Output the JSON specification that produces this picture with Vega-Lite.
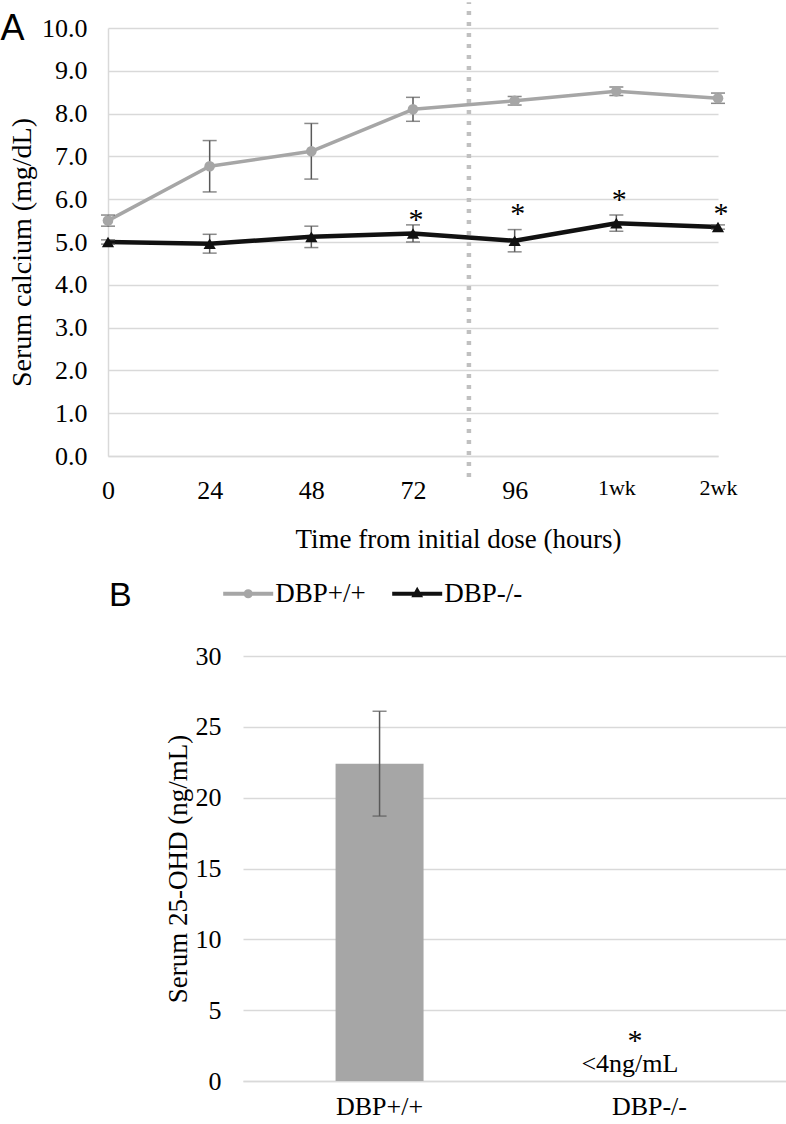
{
  "$schema": "https://vega.github.io/schema/vega-lite/v6.json",
  "background": "white",
  "padding": 0,
  "spacing": -28,
  "config": {
    "view": {"stroke": null},
    "font": "Liberation Serif",
    "axis": {
      "labelFont": "Liberation Serif",
      "titleFont": "Liberation Serif",
      "labelColor": "#000000",
      "titleColor": "#000000",
      "titleFontWeight": "normal",
      "labelFontSize": 26,
      "titleFontSize": 27,
      "ticks": false,
      "gridColor": "#d9d9d9",
      "gridWidth": 1.3,
      "domainColor": "#d9d9d9",
      "domainWidth": 1.5,
      "labelFlush": false,
      "labelOverlap": false,
      "labelBound": false
    }
  },
  "datasets": {
    "calcium": [
      {"group": "DBP+/+", "idx": 0, "ca": 5.5, "err": 0.13},
      {"group": "DBP+/+", "idx": 1, "ca": 6.77, "err": 0.6},
      {"group": "DBP+/+", "idx": 2, "ca": 7.12, "err": 0.65},
      {"group": "DBP+/+", "idx": 3, "ca": 8.1, "err": 0.28},
      {"group": "DBP+/+", "idx": 4, "ca": 8.3, "err": 0.1},
      {"group": "DBP+/+", "idx": 5, "ca": 8.52, "err": 0.1},
      {"group": "DBP+/+", "idx": 6, "ca": 8.36, "err": 0.12},
      {"group": "DBP-/-", "idx": 0, "ca": 5.0, "err": 0.05},
      {"group": "DBP-/-", "idx": 1, "ca": 4.96, "err": 0.22},
      {"group": "DBP-/-", "idx": 2, "ca": 5.12, "err": 0.25},
      {"group": "DBP-/-", "idx": 3, "ca": 5.2, "err": 0.2},
      {"group": "DBP-/-", "idx": 4, "ca": 5.03, "err": 0.26},
      {"group": "DBP-/-", "idx": 5, "ca": 5.44, "err": 0.19},
      {"group": "DBP-/-", "idx": 6, "ca": 5.35, "err": 0.05}
    ],
    "stars": [
      {"idx": 3, "ca": 5.31, "label": "*"},
      {"idx": 4, "ca": 5.44, "label": "*"},
      {"idx": 5, "ca": 5.76, "label": "*"},
      {"idx": 6, "ca": 5.44, "label": "*"}
    ],
    "divider": [{"idx": 3.55, "ca": -0.49, "ca2": 10.6}],
    "ohd": [{"genotype": "DBP+/+", "ohd": 22.4, "err": 3.7}],
    "ohdStar": [{"genotype": "DBP-/-", "ohd": 2.21, "label": "*"}],
    "ohdNote": [{"genotype": "DBP-/-", "ohd": 0.61, "label": "<4ng/mL"}]
  },
  "vconcat": [
    {
      "width": 610,
      "height": 428,
      "title": {
        "text": "A",
        "anchor": "start",
        "frame": "group",
        "orient": "top",
        "font": "Liberation Sans",
        "fontSize": 36,
        "fontWeight": "normal",
        "color": "#000000",
        "baseline": "alphabetic",
        "offset": -76,
        "dx": -107.5
      },
      "resolve": {"scale": {"shape": "independent", "stroke": "independent", "fill": "independent"}},
      "layer": [
        {
          "data": {"name": "calcium"},
          "mark": {"type": "line", "strokeJoin": "round"},
          "encoding": {
            "x": {
              "field": "idx",
              "type": "quantitative",
              "title": "Time from initial dose (hours)",
              "scale": {"domain": [0, 6], "nice": false, "zero": false},
              "axis": {
                "values": [0, 1, 2, 3, 4, 5, 6],
                "labelExpr": "['0','24','48','72','96','1wk','2wk'][datum.value]",
                "grid": false,
                "domain": true,
                "titleX": 350,
                "titleY": 91,
                "titleBaseline": "alphabetic",
                "labelPadding": 21.5,
                "labelFontSize": {"condition": {"test": "datum.value >= 5", "value": 22}, "value": 26}
              }
            },
            "y": {
              "field": "ca",
              "type": "quantitative",
              "title": "Serum calcium (mg/dL)",
              "scale": {"domain": [0, 10], "nice": false},
              "axis": {
                "values": [0, 1, 2, 3, 4, 5, 6, 7, 8, 9, 10],
                "format": ".1f",
                "grid": true,
                "domain": true,
                "titleFontSize": 28,
                "titleX": -78,
                "titleY": 224,
                "titleBaseline": "alphabetic",
                "labelPadding": 21
              }
            },
            "stroke": {
              "field": "group",
              "type": "nominal",
              "scale": {"range": ["#a6a6a6", "#111111"]},
              "legend": null
            },
            "strokeWidth": {
              "field": "group",
              "type": "nominal",
              "scale": {"range": [3.5, 4.5]},
              "legend": null
            }
          }
        },
        {
          "data": {"name": "calcium"},
          "mark": {"type": "errorbar", "color": "#595959", "ticks": true, "size": 14, "thickness": 1.5},
          "encoding": {
            "x": {"field": "idx", "type": "quantitative", "title": "Time from initial dose (hours)", "scale": {"domain": [0, 6], "nice": false, "zero": false}},
            "y": {"field": "ca", "type": "quantitative", "title": "Serum calcium (mg/dL)", "scale": {"domain": [0, 10], "nice": false}},
            "yError": {"field": "err"}
          }
        },
        {
          "data": {"name": "calcium"},
          "mark": {"type": "point", "filled": true, "opacity": 1},
          "encoding": {
            "x": {"field": "idx", "type": "quantitative", "title": "Time from initial dose (hours)", "scale": {"domain": [0, 6], "nice": false, "zero": false}},
            "y": {"field": "ca", "type": "quantitative", "title": "Serum calcium (mg/dL)", "scale": {"domain": [0, 10], "nice": false}},
            "color": {
              "field": "group",
              "type": "nominal",
              "scale": {"range": ["#a6a6a6", "#111111"]},
              "legend": null
            },
            "shape": {
              "field": "group",
              "type": "nominal",
              "scale": {"range": ["circle", "triangle-up"]},
              "legend": null
            },
            "size": {
              "field": "group",
              "type": "nominal",
              "scale": {"range": [113, 150]},
              "legend": null
            }
          }
        },
        {
          "data": {"name": "calcium"},
          "transform": [{"filter": "false"}],
          "mark": {"type": "point", "filled": true, "opacity": 1, "strokeWidth": 4},
          "encoding": {
            "x": {"field": "idx", "type": "quantitative", "title": "Time from initial dose (hours)", "scale": {"domain": [0, 6], "nice": false, "zero": false}},
            "y": {"field": "ca", "type": "quantitative", "title": "Serum calcium (mg/dL)", "scale": {"domain": [0, 10], "nice": false}},
            "fill": {
              "field": "group",
              "type": "nominal",
              "title": null,
              "scale": {"domain": ["DBP+/+", "DBP-/-"], "range": ["#a6a6a6", "#111111"]},
              "legend": {
                "title": null, "orient": "none", "legendX": 126.7, "legendY": 552,
                "direction": "horizontal", "columns": 2, "columnPadding": 18, "padding": 0,
                "symbolSize": 400, "symbolStrokeWidth": 4, "labelOffset": 13.5,
                "labelFont": "Liberation Serif", "labelFontSize": 27, "labelColor": "#000000", "labelLimit": 400
              }
            },
            "stroke": {
              "field": "group",
              "type": "nominal",
              "title": null,
              "scale": {"domain": ["DBP+/+", "DBP-/-"], "range": ["#a6a6a6", "#111111"]},
              "legend": {
                "title": null, "orient": "none", "legendX": 126.7, "legendY": 552,
                "direction": "horizontal", "columns": 2, "columnPadding": 18, "padding": 0,
                "symbolSize": 400, "symbolStrokeWidth": 4, "labelOffset": 13.5,
                "labelFont": "Liberation Serif", "labelFontSize": 27, "labelColor": "#000000", "labelLimit": 400
              }
            },
            "shape": {
              "field": "group",
              "type": "nominal",
              "title": null,
              "scale": {
                "domain": ["DBP+/+", "DBP-/-"],
                "range": [
                  "M-2.5,0L2.5,0M0.26,0A0.26,0.26,0,1,1,-0.26,0A0.26,0.26,0,1,1,0.26,0Z",
                  "M-2.5,0L2.5,0M0,-0.3L0.25,0.15L-0.25,0.15Z"
                ]
              },
              "legend": {
                "title": null, "orient": "none", "legendX": 126.7, "legendY": 552,
                "direction": "horizontal", "columns": 2, "columnPadding": 18, "padding": 0,
                "symbolSize": 400, "symbolStrokeWidth": 4, "labelOffset": 13.5,
                "labelFont": "Liberation Serif", "labelFontSize": 27, "labelColor": "#000000", "labelLimit": 400
              }
            }
          }
        },
        {
          "data": {"name": "stars"},
          "mark": {"type": "text", "font": "Liberation Serif", "fontSize": 30, "baseline": "alphabetic", "align": "center", "dx": 3, "color": "#000000"},
          "encoding": {
            "x": {"field": "idx", "type": "quantitative", "title": "Time from initial dose (hours)", "scale": {"domain": [0, 6], "nice": false, "zero": false}},
            "y": {"field": "ca", "type": "quantitative", "title": "Serum calcium (mg/dL)", "scale": {"domain": [0, 10], "nice": false}},
            "text": {"field": "label"}
          }
        },
        {
          "data": {"name": "divider"},
          "mark": {"type": "rule", "color": "#c0c0c0", "strokeWidth": 4.5, "strokeDash": [4, 7]},
          "encoding": {
            "x": {"field": "idx", "type": "quantitative", "title": "Time from initial dose (hours)", "scale": {"domain": [0, 6], "nice": false, "zero": false}},
            "y": {"field": "ca", "type": "quantitative", "title": "Serum calcium (mg/dL)", "scale": {"domain": [0, 10], "nice": false}},
            "y2": {"field": "ca2"}
          }
        }
      ]
    },
    {
      "spacing": 0,
      "hconcat": [
        {
          "width": 1,
          "height": 10,
          "data": {"values": []},
          "mark": {"type": "point", "opacity": 0}
        },
        {
          "width": 543,
          "height": 425,
          "title": {
            "text": "B",
            "anchor": "start",
            "frame": "group",
            "orient": "top",
            "font": "Liberation Sans",
            "fontSize": 34,
            "fontWeight": "normal",
            "color": "#000000",
            "baseline": "alphabetic",
            "offset": 2.7,
            "dx": -134
          },
          "layer": [
            {
              "data": {"name": "ohd"},
              "mark": {"type": "bar", "color": "#a6a6a6"},
              "encoding": {
                "x": {
                  "field": "genotype",
                  "type": "nominal",
                  "title": null,
                  "scale": {"domain": ["DBP+/+", "DBP-/-"], "paddingInner": 0.674, "paddingOuter": 0.343},
                  "axis": {"labelAngle": 0, "labelPadding": 12, "domain": true, "grid": false}
                },
                "y": {
                  "field": "ohd",
                  "type": "quantitative",
                  "title": "Serum 25-OHD (ng/mL)",
                  "scale": {"domain": [0, 30], "nice": false},
                  "axis": {
                    "values": [0, 5, 10, 15, 20, 25, 30],
                    "titleX": -57,
                    "titleBaseline": "alphabetic",
                    "labelPadding": 22,
                    "domain": false,
                    "grid": true
                  }
                }
              }
            },
            {
              "data": {"name": "ohd"},
              "mark": {"type": "errorbar", "color": "#595959", "ticks": true, "size": 14, "thickness": 1.5},
              "encoding": {
                "x": {"field": "genotype", "type": "nominal", "title": null, "scale": {"domain": ["DBP+/+", "DBP-/-"], "paddingInner": 0.674, "paddingOuter": 0.343}},
                "y": {"field": "ohd", "type": "quantitative", "title": "Serum 25-OHD (ng/mL)", "scale": {"domain": [0, 30], "nice": false}},
                "yError": {"field": "err"}
              }
            },
            {
              "data": {"name": "ohdStar"},
              "mark": {"type": "text", "font": "Liberation Serif", "fontSize": 30, "baseline": "alphabetic", "align": "center", "dx": -14.5, "color": "#000000"},
              "encoding": {
                "x": {"field": "genotype", "type": "nominal", "title": null, "scale": {"domain": ["DBP+/+", "DBP-/-"], "paddingInner": 0.674, "paddingOuter": 0.343}},
                "y": {"field": "ohd", "type": "quantitative", "title": "Serum 25-OHD (ng/mL)", "scale": {"domain": [0, 30], "nice": false}},
                "text": {"field": "label"}
              }
            },
            {
              "data": {"name": "ohdNote"},
              "mark": {"type": "text", "font": "Liberation Serif", "fontSize": 26, "baseline": "alphabetic", "align": "center", "dx": -19.5, "color": "#000000"},
              "encoding": {
                "x": {"field": "genotype", "type": "nominal", "title": null, "scale": {"domain": ["DBP+/+", "DBP-/-"], "paddingInner": 0.674, "paddingOuter": 0.343}},
                "y": {"field": "ohd", "type": "quantitative", "title": "Serum 25-OHD (ng/mL)", "scale": {"domain": [0, 30], "nice": false}},
                "text": {"field": "label"}
              }
            }
          ]
        }
      ]
    }
  ]
}
